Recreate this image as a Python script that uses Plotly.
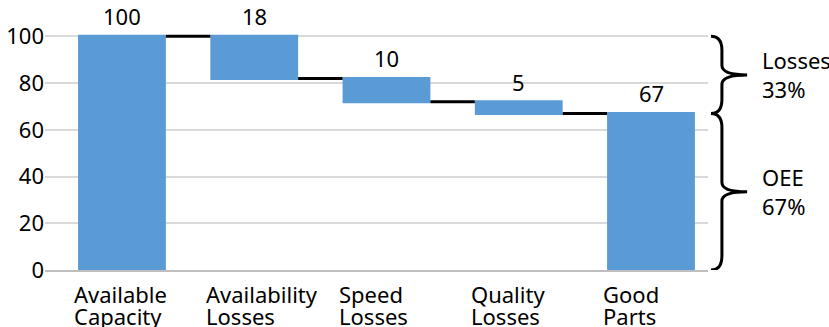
import plotly.graph_objects as go

# OEE waterfall: capacity minus losses gives good parts
categories = ["Available Capacity", "Availability Losses", "Speed Losses",
              "Quality Losses", "Good Parts"]
capacity = 100
losses = [18, 10, 5]
y_ticks = [0, 20, 40, 60, 80, 100]

good_parts = capacity - sum(losses)
total_losses = sum(losses)

BLUE = "#5B9BD5"
FONT = "Noto Sans"
GAP = 0.336
bar_w = 1 - GAP

# a little headroom above 100 so the top connector is not clipped
Y_MAX = 101
PX_PER_UNIT = 2.34
plot_h = Y_MAX * PX_PER_UNIT
bottom_margin = 57
top_margin = 327 - bottom_margin - plot_h

fig = go.Figure(go.Waterfall(
    x=categories,
    measure=["absolute"] + ["relative"] * len(losses) + ["total"],
    y=[capacity] + [-v for v in losses] + [0],
    increasing=dict(marker=dict(color=BLUE)),
    decreasing=dict(marker=dict(color=BLUE)),
    totals=dict(marker=dict(color=BLUE)),
    connector=dict(mode="between", line=dict(color="black", width=3)),
    cliponaxis=False,
    hoverinfo="skip",
))

annotations = []

# value labels above each bar
levels = [capacity]
for v in losses:
    levels.append(levels[-1] - v)
label_vals = [capacity] + losses + [good_parts]
label_tops = [capacity] + levels[:-1] + [good_parts]
for i, (val, top) in enumerate(zip(label_vals, label_tops)):
    annotations.append(dict(
        x=i, y=top, xref="x", yref="y", text=str(val), showarrow=False,
        xanchor="center", yanchor="bottom", yshift=3,
        font=dict(family=FONT, size=22, color="black"),
    ))

# two-line category labels under the bars, left-aligned, tight line pitch
for i, name in enumerate(categories):
    text = "<br>".join(f"<span style='font-size:22px'>{w}</span>"
                       for w in name.split(" "))
    annotations.append(dict(
        x=i - bar_w / 2, y=0, xref="x", yref="y", text=text,
        showarrow=False, xanchor="left", yanchor="top", align="left",
        xshift=-6, yshift=-7,
        font=dict(family=FONT, size=17, color="black"),
    ))

# curly braces on the right for losses and OEE
def brace(y_top, y_bot, d_end=6.0, d_mid=4.0):
    x0, x1, x2 = 1.0045, 1.021, 1.059
    ym = (y_top + y_bot) / 2
    return (f"M {x0},{y_top} Q {x1},{y_top} {x1},{y_top - d_end} "
            f"L {x1},{ym + d_mid} Q {x1},{ym} {x2},{ym} "
            f"Q {x1},{ym} {x1},{ym - d_mid} "
            f"L {x1},{y_bot + d_end} Q {x1},{y_bot} {x0},{y_bot}")

shapes = [
    dict(type="path", xref="paper", yref="y", path=brace(capacity, good_parts),
         line=dict(color="black", width=3)),
    dict(type="path", xref="paper", yref="y", path=brace(good_parts, 0),
         line=dict(color="black", width=3)),
]

brace_labels = [
    ("Losses", round(100 * total_losses / capacity), (capacity + good_parts) / 2),
    ("OEE", round(100 * good_parts / capacity), good_parts / 2),
]
for name, pct, ym in brace_labels:
    annotations.append(dict(
        x=1.078, y=ym, xref="paper", yref="y", text=f"{name}<br>{pct}%",
        showarrow=False, xanchor="left", yanchor="middle", align="left",
        font=dict(family=FONT, size=22, color="black"),
    ))

fig.update_layout(
    width=829, height=327,
    margin=dict(l=45, r=121, t=top_margin, b=bottom_margin),
    paper_bgcolor="white", plot_bgcolor="white",
    showlegend=False,
    waterfallgap=GAP,
    font=dict(family=FONT, size=22, color="black"),
    xaxis=dict(range=[-0.582, 4.431], showticklabels=False, showgrid=False,
               zeroline=False, showline=True, linecolor="#bfbfbf", linewidth=2,
               ticks="", automargin=False),
    yaxis=dict(range=[0, Y_MAX], tickvals=y_ticks, showgrid=True,
               gridcolor="#d9d9d9", gridwidth=1.5, zeroline=False,
               showline=False, ticks="", automargin=False,
               tickfont=dict(family=FONT, size=22, color="black")),
    annotations=annotations,
    shapes=shapes,
)

fig.write_html("out.html")
